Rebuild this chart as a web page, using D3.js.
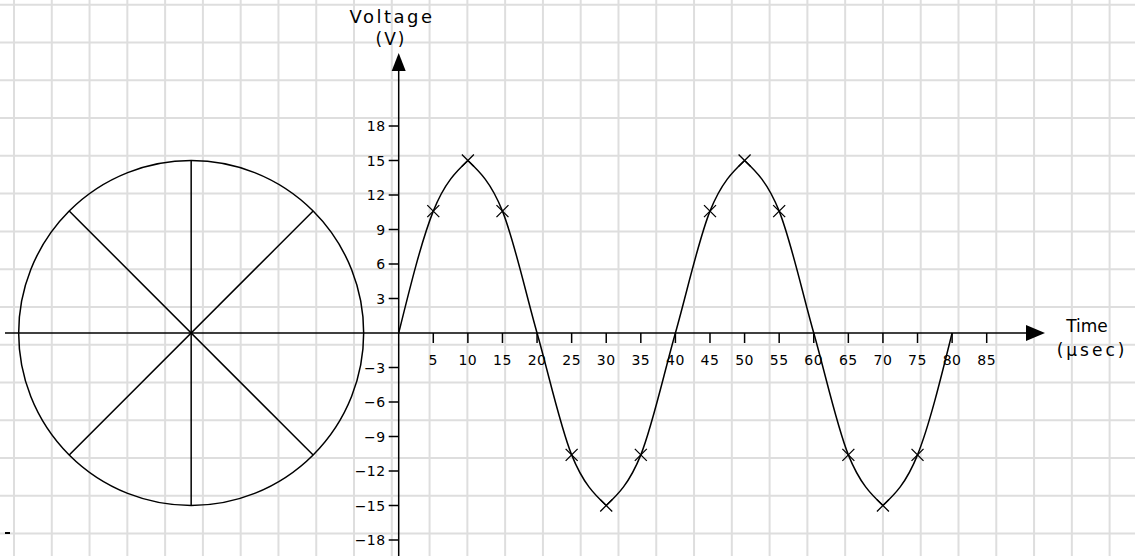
<!DOCTYPE html>
<html>
<head>
<meta charset="utf-8">
<style>
  body { margin: 0; background: #fff; }
  svg { display: block; }
  text { font-family: 'DejaVu Sans', sans-serif; fill: #000; }
  .grid line { stroke: #dedede; stroke-width: 2px; }
  .ink { stroke: #000; stroke-width: 1.5px; fill: none; }
</style>
</head>
<body>
<div id="chart"></div>
<script src="https://d3js.org/d3.v7.min.js"></script>
<script>
// sampled waveform (time in usec, voltage in V)
const times = [0, 5, 10, 15, 20, 25, 30, 35, 40, 45, 50, 55, 60, 65, 70, 75, 80];
const volts = [0, 10.6, 15, 10.6, 0, -10.6, -15, -10.6, 0, 10.6, 15, 10.6, 0, -10.6, -15, -10.6, 0];

const xTickValues = [5, 10, 15, 20, 25, 30, 35, 40, 45, 50, 55, 60, 65, 70, 75, 80, 85];
const yTickValues = [18, 15, 12, 9, 6, 3, -3, -6, -9, -12, -15, -18];

// phasor circle: radius = peak voltage, spokes at these angles (deg)
const peak = 15;
const circleCentreTime = -30;
const spokeAngles = [45, 90, 135];

const width = 1135, height = 556;
const gridStep = 37.78;

const svg = d3.select('#chart').append('svg')
    .attr('width', width)
    .attr('height', height);

// graph-paper background
const grid = svg.append('g').attr('class', 'grid');
grid.selectAll('line.v')
    .data(d3.range(14, width, gridStep))
    .join('line')
    .attr('x1', d => d).attr('x2', d => d)
    .attr('y1', 0).attr('y2', height);
grid.selectAll('line.h')
    .data(d3.range(4.7, height, gridStep))
    .join('line')
    .attr('y1', d => d).attr('y2', d => d)
    .attr('x1', 0).attr('x2', width);

const x = d3.scaleLinear().domain([0, 85]).range([398.7, 986.7]);
const y = d3.scaleLinear().domain([-18, 18]).range([540, 126]);

// axes lines + arrows
svg.append('line').attr('class', 'ink')
    .attr('x1', 5).attr('x2', 1030)
    .attr('y1', y(0)).attr('y2', y(0));
svg.append('path')
    .attr('d', `M${1026},${y(0) - 8}L${1045},${y(0)}L${1026},${y(0) + 8}Z`)
    .attr('fill', '#000');

svg.append('line').attr('class', 'ink')
    .attr('x1', x(0)).attr('x2', x(0))
    .attr('y1', 66).attr('y2', height);
svg.append('path')
    .attr('d', `M${x(0) - 7},${71}L${x(0)},${53}L${x(0) + 7},${71}Z`)
    .attr('fill', '#000');

// ticks
svg.append('g').selectAll('line')
    .data(xTickValues)
    .join('line').attr('class', 'ink')
    .attr('x1', d => x(d)).attr('x2', d => x(d))
    .attr('y1', y(0)).attr('y2', y(0) + 10);
svg.append('g').selectAll('text')
    .data(xTickValues)
    .join('text')
    .attr('x', d => x(d))
    .attr('y', y(0) + 32)
    .attr('text-anchor', 'middle')
    .style('font-size', '14px')
    .style('letter-spacing', '0.5px')
    .text(d => d);

svg.append('g').selectAll('line')
    .data(yTickValues)
    .join('line').attr('class', 'ink')
    .attr('x1', x(0) - 10).attr('x2', x(0))
    .attr('y1', d => y(d)).attr('y2', d => y(d));
svg.append('g').selectAll('text')
    .data(yTickValues)
    .join('text')
    .attr('x', x(0) - 13)
    .attr('y', d => y(d) + 5)
    .attr('text-anchor', 'end')
    .style('font-size', '14px')
    .style('letter-spacing', '0.5px')
    .text(d => d < 0 ? '\u2212' + Math.abs(d) : d);

// axis titles
svg.append('text').attr('x', 392).attr('y', 23).attr('text-anchor', 'middle')
    .style('font-size', '18px').style('letter-spacing', '2.5px').text('Voltage');
svg.append('text').attr('x', 391).attr('y', 45).attr('text-anchor', 'middle')
    .style('font-size', '17px').style('letter-spacing', '2px').text('(V)');
svg.append('text').attr('x', 1087).attr('y', 332).attr('text-anchor', 'middle')
    .style('font-size', '17px').text('Time');
svg.append('text').attr('x', 1092).attr('y', 356).attr('text-anchor', 'middle')
    .style('font-size', '17px').style('letter-spacing', '3px').text('(\u00b5sec)');

// phasor circle
const cx = x(circleCentreTime), cy = y(0), r = y(0) - y(peak);
svg.append('circle').attr('class', 'ink')
    .attr('cx', cx).attr('cy', cy).attr('r', r);
svg.append('g').selectAll('line')
    .data(spokeAngles)
    .join('line').attr('class', 'ink')
    .attr('x1', d => cx + r * Math.cos(d * Math.PI / 180))
    .attr('y1', d => cy - r * Math.sin(d * Math.PI / 180))
    .attr('x2', d => cx - r * Math.cos(d * Math.PI / 180))
    .attr('y2', d => cy + r * Math.sin(d * Math.PI / 180));

// waveform, drawn peak-to-peak so the crests keep their points
const pts = times.map((t, i) => [t, volts[i]]);
const breaks = [0];
pts.forEach((p, i) => { if (Math.abs(p[1]) === peak) breaks.push(i); });
breaks.push(pts.length - 1);
const pieces = d3.pairs(breaks).map(([a, b]) => pts.slice(a, b + 1));

const line = d3.line()
    .x(d => x(d[0]))
    .y(d => y(d[1]))
    .curve(d3.curveMonotoneX);

svg.append('g').selectAll('path')
    .data(pieces)
    .join('path').attr('class', 'ink')
    .attr('d', line);

// cross markers on sampled points
const m = 6;
svg.append('g').selectAll('path')
    .data(pts.filter(p => p[1] !== 0))
    .join('path').attr('class', 'ink')
    .style('stroke-width', '1.3px')
    .attr('d', d => {
        const px = x(d[0]), py = y(d[1]);
        return `M${px - m},${py - m}L${px + m},${py + m}M${px - m},${py + m}L${px + m},${py - m}`;
    });

// stray pen mark bottom left
svg.append('line').attr('class', 'ink').style('stroke-width', '2px')
    .attr('x1', 5).attr('x2', 10).attr('y1', 533).attr('y2', 533);
</script>
</body>
</html>
